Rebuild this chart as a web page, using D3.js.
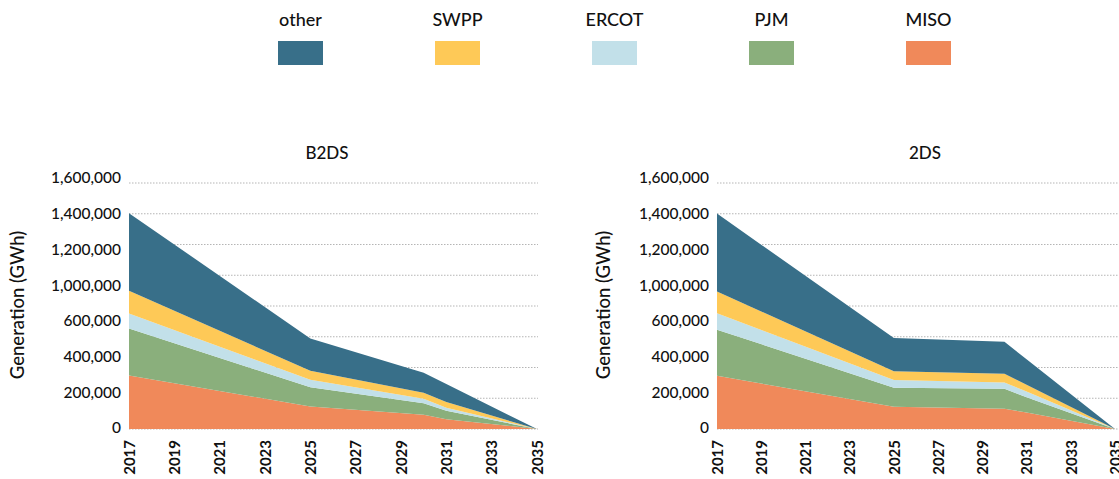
<!DOCTYPE html>
<html>
<head>
<meta charset="utf-8">
<script src="https://cdn.jsdelivr.net/npm/d3@7"></script>
<style>
  body { margin: 0; background: #fff; }
  svg { display: block; font-family: Lato, "Noto Sans", sans-serif; }
</style>
</head>
<body>
<svg id="chart" width="1119" height="479"></svg>
<script>
// years where the series change slope
const years = [2017, 2025, 2030, 2031, 2035];
const yearTicks = [2017, 2019, 2021, 2023, 2025, 2027, 2029, 2031, 2033, 2035];

// stack order, bottom to top
const regions = ["MISO", "PJM", "ERCOT", "SWPP", "other"];
const legendOrder = ["other", "SWPP", "ERCOT", "PJM", "MISO"];
const colors = ["#f0895a", "#8aaf7c", "#c2e0e9", "#fec957", "#386f89"];

// GWh, B2DS scenario
const b2dsMISO = [348000, 147000, 93000, 64000, 0];
const b2dsPJM = [305000, 125000, 74000, 54000, 0];
const b2dsERCOT = [98000, 48000, 29000, 20000, 0];
const b2dsSWPP = [148000, 59000, 39000, 37000, 0];
const b2dsOther = [505000, 209000, 131000, 117000, 0];

// GWh, 2DS scenario
const s2dsMISO = [346000, 144000, 132000, 108000, 0];
const s2dsPJM = [300000, 124000, 130000, 98000, 0];
const s2dsERCOT = [107000, 50000, 41000, 38000, 0];
const s2dsSWPP = [141000, 58000, 57000, 44000, 0];
const s2dsOther = [507000, 216000, 207000, 165000, 0];

// tick labels as they appear on the value axis (800,000 is not shown)
const yTickLabels = [0, 200000, 400000, 600000, 1000000, 1200000, 1400000, 1600000];
const gridValues = d3.range(0, 1600001, 200000);

const svg = d3.select("#chart");
const color = d3.scaleOrdinal().domain(regions).range(colors);

// legend
const legendX = d3.scalePoint().domain(legendOrder).range([300.5, 928.5]);
const legend = svg.append("g");
legendOrder.forEach(name => {
  legend.append("text")
    .attr("x", legendX(name))
    .attr("y", 26)
    .attr("text-anchor", "middle")
    .attr("font-size", 18)
    .attr("font-weight", 500)
    .attr("fill", "#111")
    .text(name);
  legend.append("rect")
    .attr("x", legendX(name) - 22.5)
    .attr("y", 41)
    .attr("width", 45)
    .attr("height", 24)
    .attr("fill", color(name));
});

function buildTable(miso, pjm, ercot, swpp, other) {
  return years.map((y, i) => ({
    year: y, MISO: miso[i], PJM: pjm[i], ERCOT: ercot[i], SWPP: swpp[i], other: other[i]
  }));
}

const charts = [
  { title: "B2DS", left: 129, right: 537, gridRight: 538, titleX: 327, axisTitleX: 18,
    table: buildTable(b2dsMISO, b2dsPJM, b2dsERCOT, b2dsSWPP, b2dsOther) },
  { title: "2DS", left: 717, right: 1115, gridRight: 1119, titleX: 925, axisTitleX: 604,
    table: buildTable(s2dsMISO, s2dsPJM, s2dsERCOT, s2dsSWPP, s2dsOther) }
];

const plotTop = 183, plotBottom = 429;

charts.forEach(c => {
  const g = svg.append("g");
  const x = d3.scaleLinear().domain([2017, 2035]).range([c.left, c.right]);
  const y = d3.scaleLinear().domain([0, 1600000]).range([plotBottom, plotTop]);

  // dotted gridlines
  g.append("g")
    .selectAll("line")
    .data(gridValues)
    .join("line")
    .attr("x1", c.left)
    .attr("x2", c.gridRight)
    .attr("y1", d => y(d))
    .attr("y2", d => y(d))
    .attr("stroke", "#b5b5b5")
    .attr("stroke-width", 1)
    .attr("stroke-dasharray", "1.5,1.5");

  // stacked areas
  const stacked = d3.stack().keys(regions)(c.table);
  const area = d3.area()
    .x(d => x(d.data.year))
    .y0(d => y(d[0]))
    .y1(d => y(d[1]));
  g.append("g")
    .selectAll("path")
    .data(stacked)
    .join("path")
    .attr("fill", d => color(d.key))
    .attr("d", area);

  // value axis labels
  const yLabels = d3.scalePoint()
    .domain(yTickLabels.map(String))
    .range([428, 178]);
  const yAxis = g.append("g")
    .attr("transform", `translate(${c.left - 8},0)`)
    .call(d3.axisLeft(yLabels).tickSize(0).tickPadding(0)
      .tickFormat(d => d3.format(",")(+d)));
  yAxis.select(".domain").remove();
  yAxis.selectAll("text")
    .attr("font-family", "Lato, 'Noto Sans', sans-serif")
    .attr("font-size", 15.5)
    .attr("font-weight", 500)
    .attr("fill", "#111");

  // year axis
  const xAxis = g.append("g")
    .attr("transform", `translate(0,${plotBottom})`)
    .call(d3.axisBottom(x).tickValues(yearTicks).tickSize(0).tickFormat(d3.format("d")));
  xAxis.select(".domain").remove();
  xAxis.selectAll("text")
    .attr("font-family", "Lato, 'Noto Sans', sans-serif")
    .attr("font-size", 15)
    .attr("font-weight", 700)
    .attr("fill", "#111")
    .attr("text-anchor", "end")
    .attr("dy", "0.35em")
    .attr("transform", "translate(0,11) rotate(-90)")
    .attr("x", 0)
    .attr("y", 0);

  // chart title
  g.append("text")
    .attr("x", c.titleX)
    .attr("y", 159)
    .attr("text-anchor", "middle")
    .attr("font-size", 17)
    .attr("font-weight", 500)
    .attr("fill", "#111")
    .text(c.title);

  // axis title
  g.append("text")
    .attr("transform", `translate(${c.axisTitleX + 6},305) rotate(-90)`)
    .attr("text-anchor", "middle")
    .attr("font-size", 18.5)
    .attr("font-weight", 500)
    .attr("fill", "#111")
    .text("Generation (GWh)");
});
</script>
</body>
</html>
